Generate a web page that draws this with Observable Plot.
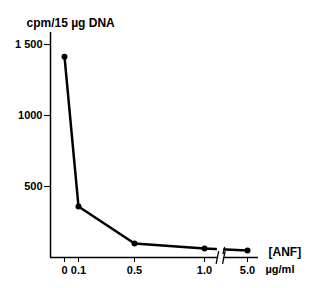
<!DOCTYPE html>
<html>
<head>
<meta charset="utf-8">
<script src="https://cdn.jsdelivr.net/npm/d3@7"></script>
<script src="https://cdn.jsdelivr.net/npm/@observablehq/plot@0.6"></script>
<style>
  html, body { margin: 0; padding: 0; background: white; }
</style>
</head>
<body>
<div id="chart"></div>
<script>
const doses = [0, 0.1, 0.5, 1.0, 5.0];
const cpm = [1415, 359, 99, 63, 49];
const doseLabels = ["0", "0.1", "0.5", "1.0", "5.0"];
const yTicks = [500, 1000, 1500];
const yTickLabels = ["500", "1000", "1 500"];
const yLabel = "cpm/15 \u00b5g DNA";
const xName = "[ANF]";
const xUnit = "\u00b5g/ml";
const breakLeft = 2.2, breakRight = 2.8;

const data = doses.map((d, i) => ({dose: d, cpm: cpm[i]}));
const slashes = [
  {x1: breakLeft - 0.12, x2: breakLeft + 0.12, y1: -45, y2: 45},
  {x1: breakRight - 0.12, x2: breakRight + 0.12, y1: -45, y2: 45},
  {x1: breakRight - 0.08, x2: breakRight + 0.08, y1: cpm[4] - 25, y2: cpm[4] + 25}
];

const chart = Plot.plot({
  width: 320,
  height: 288,
  marginLeft: 50,
  marginRight: 62,
  marginTop: 32,
  marginBottom: 31,
  style: {fontFamily: "'Liberation Sans', Arial, sans-serif", fontSize: "11px", fontWeight: "bold", color: "black", background: "white"},
  x: {
    type: "linear",
    domain: [-0.1, 1, 5, 5.25],
    range: [50, 204, 247, 258],
    ticks: doses,
    tickFormat: d => doseLabels[doses.indexOf(d)],
    tickSize: 5,
    label: null
  },
  y: {
    domain: [0, 1585],
    ticks: yTicks,
    tickFormat: d => yTickLabels[yTicks.indexOf(d)],
    tickSize: 6,
    tickPadding: 2,
    label: null
  },
  marks: [
    Plot.ruleX([-0.1], {strokeWidth: 1.5}),
    Plot.ruleY([0], {strokeWidth: 1.5}),
    Plot.line(data, {x: "dose", y: "cpm", strokeWidth: 2.5}),
    Plot.dot(data, {x: "dose", y: "cpm", r: 3, fill: "black"}),
    Plot.rect([0], {x1: breakLeft, x2: breakRight, y1: -12, y2: 120, fill: "white"}),
    Plot.link(slashes, {x1: "x1", x2: "x2", y1: "y1", y2: "y2", strokeWidth: 1.3}),
    Plot.text([yLabel], {frameAnchor: "top-left", dx: -24, dy: -14, textAnchor: "start", fontSize: 12}),
    Plot.text([xName], {frameAnchor: "bottom-right", dx: 10, dy: -2, textAnchor: "start", fontSize: 12}),
    Plot.text([xUnit], {frameAnchor: "bottom-right", dx: 7, dy: 15, textAnchor: "start"})
  ]
});
document.getElementById("chart").appendChild(chart);
</script>
</body>
</html>
